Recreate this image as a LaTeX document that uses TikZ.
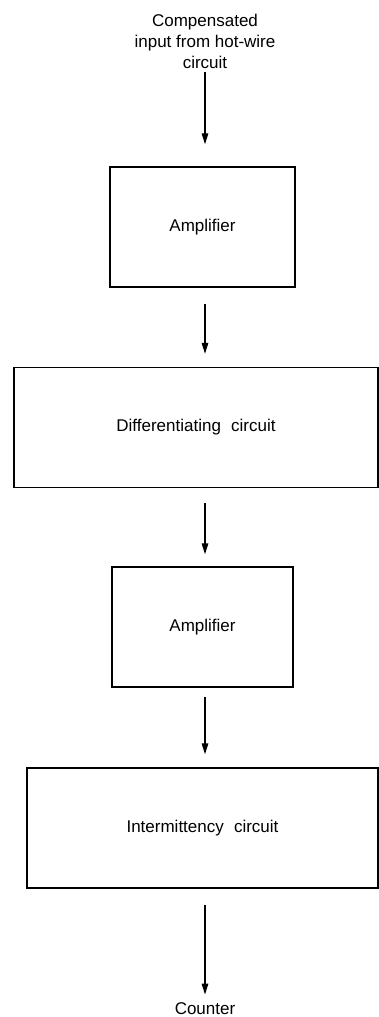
\documentclass[tikz,border=0pt]{standalone}
\usepackage{fontspec}
\setmainfont{Liberation Sans}
\usetikzlibrary{arrows.meta}
\begin{document}
\begin{tikzpicture}[x=1pt,y=-1pt,
  blk/.style={draw=black,line width=1.4pt,minimum width=#1,minimum height=120pt,inner sep=0pt,
    font=\fontsize{17}{21}\selectfont},
  lbl/.style={align=center,inner sep=0pt,font=\fontsize{17}{21}\selectfont},
  arr/.style={line width=1.4pt,-{Triangle[length=11pt,width=6.5pt]}}]
\useasboundingbox (0,0) rectangle (379,1017);
\node[lbl] (in) at (205,41) {Compensated\\input from hot-wire\\circuit};
\node[blk=185pt] (b1) at (202.5,227) {Amplifier};
\node[blk=364pt] (b2) at (196,427.5) {Differentiating\hspace{0.6em}circuit};
\node[blk=181pt] (b3) at (202.5,627) {Amplifier};
\node[blk=351pt] (b4) at (202.5,828) {Intermittency\hspace{0.6em}circuit};
\node[lbl,anchor=south] (out) at (205,1015) {Counter};
\draw[arr] ([yshift=-4pt]in.south) -- ([xshift=2.5pt,yshift=22pt]b1.north);
\draw[arr] ([xshift=2.5pt,yshift=-16pt]b1.south) -- ([xshift=9pt,yshift=13pt]b2.north);
\draw[arr] ([xshift=9pt,yshift=-15pt]b2.south) -- ([xshift=2.5pt,yshift=12pt]b3.north);
\draw[arr] ([xshift=2.5pt,yshift=-9pt]b3.south) -- ([xshift=2.5pt,yshift=13pt]b4.north);
\draw[arr] ([xshift=2.5pt,yshift=-16pt]b4.south) -- ([yshift=8pt]out.north);
\end{tikzpicture}
\end{document}
